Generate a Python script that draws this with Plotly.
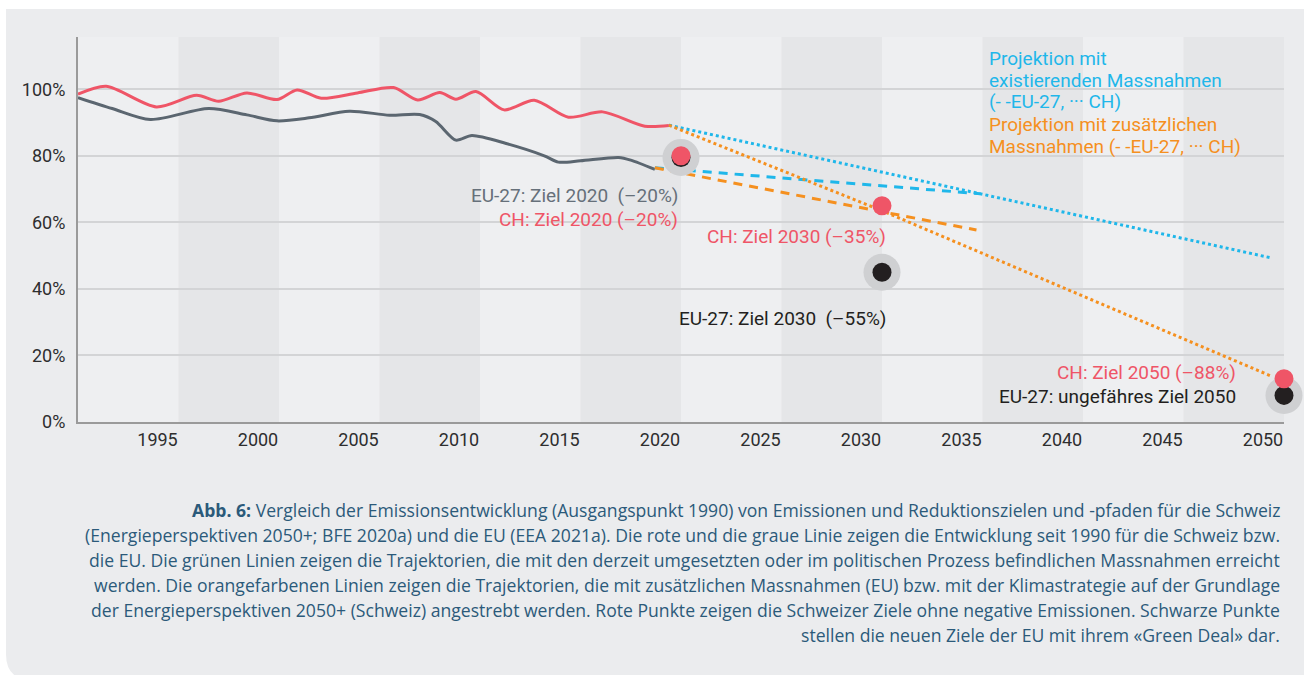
import plotly.graph_objects as go

# ---------------- data ----------------
ch_years = [1990.0, 1991.4, 1993.9, 1995.9, 1997.0, 1998.4, 1999.9, 2000.9, 2002.1, 2003.9,
            2005.7, 2006.9, 2008.0, 2008.8, 2009.8, 2011.2, 2012.7, 2014.4, 2016.1, 2018.2, 2019.4]
ch_values = [98.5, 100.9, 94.7, 98.2, 96.4, 98.9, 96.9, 99.8, 97.3, 98.9,
             100.5, 96.8, 99.0, 97.0, 99.3, 93.8, 96.7, 91.6, 93.2, 88.9, 89.1]

eu_years = [1990.0, 1991.7, 1993.6, 1996.5, 1998.4, 1999.9, 2001.5, 2003.5, 2005.5, 2007.0,
            2007.8, 2008.8, 2009.6, 2011.3, 2013.2, 2013.9, 2015.0, 2016.9, 2017.5, 2018.7]
eu_values = [97.5, 94.2, 90.9, 94.2, 92.3, 90.5, 91.4, 93.4, 92.2, 92.4,
             90.3, 84.7, 86.1, 83.7, 80.0, 78.1, 78.5, 79.5, 78.7, 75.9]

ch_exist_years = [2019.4, 2049.3]
ch_exist_values = [89.2, 49.4]
ch_add_years = [2019.4, 2030.0, 2049.4]
ch_add_values = [89.2, 63.5, 13.7]
eu_exist_years = [2018.7, 2034.9]
eu_exist_values = [76.4, 68.6]
eu_add_years = [2018.7, 2034.7]
eu_add_values = [76.4, 57.7]

ch_target_years = [2020, 2030, 2050]
ch_target_values = [80, 65, 13]
eu_target_years = [2020, 2030, 2050]
eu_target_values = [79.5, 45, 8]

x_ticks = [1995, 2000, 2005, 2010, 2015, 2020, 2025, 2030, 2035, 2040, 2045, 2050]
y_ticks = [0, 20, 40, 60, 80, 100]
y_tick_labels = ["0%", "20%", "40%", "60%", "80%", "100%"]
shaded_bands = [(1995, 2000), (2005, 2010), (2015, 2020), (2025, 2030), (2035, 2040), (2045, 2050)]

caption_lines = [
    "<b>Abb. 6:</b> Vergleich der Emissionsentwicklung (Ausgangspunkt 1990) von Emissionen und Reduktionszielen und -pfaden für die Schweiz",
    "(Energieperspektiven 2050+; BFE 2020a) und die EU (EEA 2021a). Die rote und die graue Linie zeigen die Entwicklung seit 1990 für die Schweiz bzw.",
    "die EU. Die grünen Linien zeigen die Trajektorien, die mit den derzeit umgesetzten oder im politischen Prozess befindlichen Massnahmen erreicht",
    "werden. Die orangefarbenen Linien zeigen die Trajektorien, die mit zusätzlichen Massnahmen (EU) bzw. mit der Klimastrategie auf der Grundlage",
    "der Energieperspektiven 2050+ (Schweiz) angestrebt werden. Rote Punkte zeigen die Schweizer Ziele ohne negative Emissionen. Schwarze Punkte",
    "stellen die neuen Ziele der EU mit ihrem «Green Deal» dar.",
]

# ---------------- style ----------------
FONT = "Roboto"
CAP_FONT = "Open Sans"
RED = "#ef5567"
GRAY = "#5b6670"
CYAN = "#1fb7ea"
ORANGE = "#f5901f"
BLACK = "#231f20"
HALO = "#cfd0d2"
CAPTION = "#2b5a7a"
CARD = "#ebecee"
PLOT_BG = "#eeeff1"
BAND = "#e5e6e8"

W, H = 1304, 675
L, R, T, B = 78, 20, 37, 253
PW, PH = W - L - R, H - T - B
YMAX = 115.7


def px(xp):
    return (xp - L) / PW


def py(yp):
    return (H - B - yp) / PH


fig = go.Figure()

# historical lines
fig.add_trace(go.Scatter(x=eu_years, y=eu_values, mode="lines",
                         line=dict(color=GRAY, width=3, shape="spline", smoothing=0.8)))
fig.add_trace(go.Scatter(x=ch_years, y=ch_values, mode="lines",
                         line=dict(color=RED, width=3, shape="spline", smoothing=0.8)))

# projections
fig.add_trace(go.Scatter(x=eu_exist_years, y=eu_exist_values, mode="lines",
                         line=dict(color=CYAN, width=3, dash="9px,7px")))
fig.add_trace(go.Scatter(x=eu_add_years, y=eu_add_values, mode="lines",
                         line=dict(color=ORANGE, width=3, dash="9px,7px")))
fig.add_trace(go.Scatter(x=ch_exist_years, y=ch_exist_values, mode="lines",
                         line=dict(color=CYAN, width=3, dash="3px,3px")))
fig.add_trace(go.Scatter(x=ch_add_years, y=ch_add_values, mode="lines",
                         line=dict(color=ORANGE, width=3, dash="3px,3px")))

# halos around EU targets
fig.add_trace(go.Scatter(x=eu_target_years, y=eu_target_values, mode="markers", cliponaxis=False,
                         marker=dict(size=37, color=HALO, line=dict(width=0))))
fig.add_trace(go.Scatter(x=eu_target_years, y=eu_target_values, mode="markers", cliponaxis=False,
                         marker=dict(size=19, color=BLACK, line=dict(width=0))))
fig.add_trace(go.Scatter(x=ch_target_years, y=ch_target_values, mode="markers", cliponaxis=False,
                         marker=dict(size=19, color=RED, line=dict(width=0))))

shapes = []
# card with rounded bottom-left corner (paper coords from pixels)
x0, y0, x1, y1, rad = 6, 9, W + 5, H + 5, 26
card_path = (f"M {px(x0)},{py(y0)} L {px(x1)},{py(y0)} L {px(x1)},{py(y1)} "
             f"L {px(x0 + rad)},{py(y1)} Q {px(x0)},{py(y1)} {px(x0)},{py(y1 - rad)} Z")
shapes.append(dict(type="path", xref="paper", yref="paper", path=card_path,
                   fillcolor=CARD, line=dict(width=0), layer="below"))
shapes.append(dict(type="rect", xref="paper", yref="paper", x0=0, x1=1, y0=0, y1=1,
                   fillcolor=PLOT_BG, line=dict(width=0), layer="below"))
for a, b in shaded_bands:
    shapes.append(dict(type="rect", xref="x", yref="paper", x0=a, x1=b, y0=0, y1=1,
                       fillcolor=BAND, line=dict(width=0), layer="below"))

annotations = []


def label(text, right_px, cy_px, color, size=19, anchor="right", family=FONT):
    annotations.append(dict(text=text, xref="paper", yref="paper", x=px(right_px), y=py(cy_px),
                            xanchor=anchor, yanchor="middle", showarrow=False,
                            font=dict(family=family, size=size, color=color)))


NB = "\u00a0"
label(f"EU-27: Ziel 2020 {NB}(–20%)", 680, 195, "#66707a")
label("CH: Ziel 2020 (–20%)", 680, 219, RED)
label("CH: Ziel 2030 (–35%)", 888, 237, RED)
label(f"EU-27: Ziel 2030 {NB}(–55%)", 888, 318, BLACK)
label("CH: Ziel 2050 (–88%)", 1238, 372, RED)
label("EU-27: ungefähres Ziel 2050", 1238, 396, BLACK)

label("Projektion mit", 987, 58, CYAN, anchor="left")
label("existierenden Massnahmen", 987, 80, CYAN, anchor="left")
label("(- -EU-27, ··· CH)", 987, 101, CYAN, anchor="left")
label("Projektion mit zusätzlichen", 987, 125, ORANGE, anchor="left")
label("Massnahmen (- -EU-27, ··· CH)", 987, 146, ORANGE, anchor="left")

cap_y = [510, 535, 560, 585, 610, 635]
for line, yy in zip(caption_lines, cap_y):
    label(line, 1282, yy, CAPTION, size=17.6, family=CAP_FONT)

fig.update_layout(
    width=W, height=H,
    margin=dict(l=L, r=R, t=T, b=B, pad=0),
    paper_bgcolor="white",
    plot_bgcolor=PLOT_BG,
    showlegend=False,
    font=dict(family=FONT, size=18, color="#2e2e2e"),
    shapes=shapes,
    annotations=annotations,
    xaxis=dict(range=[1990, 2050], tickvals=x_ticks, ticktext=[str(v) for v in x_ticks],
               showgrid=False, zeroline=False, showline=True, linecolor="#9a9a9a", linewidth=2,
               ticks="", ticklabelshift=-21, ticklabelstandoff=0,
               tickfont=dict(family=FONT, size=18, color="#2e2e2e")),
    yaxis=dict(range=[0, YMAX], tickvals=y_ticks, ticktext=y_tick_labels,
               showgrid=True, gridcolor="#d3d4d6", gridwidth=1.5, zeroline=False,
               showline=True, linecolor="#9a9a9a", linewidth=2, ticks="", ticklabelstandoff=7,
               tickfont=dict(family=FONT, size=18, color="#2e2e2e")),
)

fig.write_html("out.html", config={"displayModeBar": False},
               post_script="document.body.style.margin='0';document.body.style.overflow='hidden';")
